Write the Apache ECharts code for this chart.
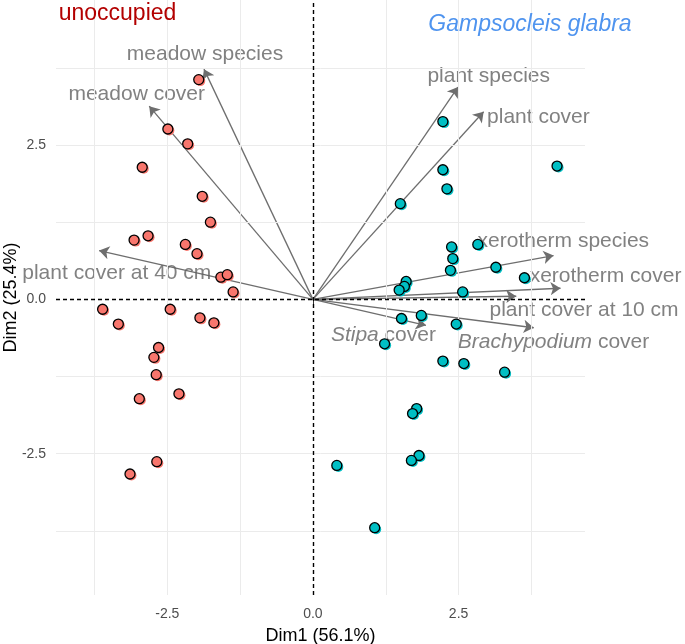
<!DOCTYPE html>
<html>
<head>
<meta charset="utf-8">
<script src="https://cdn.jsdelivr.net/npm/echarts@6/dist/echarts.min.js"></script>
<style>
  html, body { margin: 0; padding: 0; background: #fff; }
  #chart { width: 685px; height: 644px; }
</style>
</head>
<body>
<div id="chart"></div>
<script>
// ---- data ----
const unoccupiedX = [-1.96, -2.49, -2.15, -2.93, -1.90, -1.76, -3.07, -2.83, -2.19, -1.99, -1.58, -1.47, -1.37,
                     -3.61, -3.34, -2.45, -1.94, -1.70, -2.65, -2.73, -2.69, -2.98, -2.30, -2.68, -3.14];
const unoccupiedY = [3.56, 2.76, 2.52, 2.14, 1.67, 1.25, 0.96, 1.03, 0.89, 0.74, 0.36, 0.40, 0.12,
                     -0.16, -0.40, -0.16, -0.30, -0.38, -0.78, -0.94, -1.22, -1.61, -1.53, -2.63, -2.83];
const gampsoX = [2.23, 2.23, 2.30, 1.50, 4.19, 2.38, 2.40, 2.83, 3.14, 2.36, 3.63, 1.60, 1.57, 1.48,
                 2.57, 1.52, 1.86, 2.46, 1.23, 2.23, 2.59, 3.29, 1.78, 1.71, 1.82, 1.69, 1.06, 0.41];
const gampsoY = [2.88, 2.10, 1.79, 1.55, 2.16, 0.85, 0.66, 0.89, 0.52, 0.47, 0.35, 0.29, 0.21, 0.15,
                 0.12, -0.31, -0.26, -0.40, -0.72, -1.00, -1.04, -1.18, -1.77, -1.85, -2.53, -2.61, -3.70, -2.69];
const variableNames = ['meadow species', 'meadow cover', 'plant cover at 40 cm', 'plant species', 'plant cover',
                       'xerotherm species', 'xerotherm cover', 'plant cover at 10 cm', 'Brachypodium cover', 'Stipa cover'];
const variableX = [-1.87, -2.81, -3.67, 2.49, 2.93, 4.13, 4.25, 3.49, 3.79, 1.94];
const variableY = [3.73, 3.13, 0.79, 3.44, 3.04, 0.71, 0.18, 0.05, -0.46, -0.42];
const tickValues = [-2.5, 0, 2.5];
const gridValues = [-3.75, -2.5, -1.25, 1.25, 2.5, 3.75];
const xAxisTitle = 'Dim1 (56.1%)';
const yAxisTitle = 'Dim2 (25.4%)';
const groupNames = ['unoccupied', 'Gampsocleis glabra'];

// ---- style ----
const FONT = "'Liberation Sans', Arial, Helvetica, sans-serif";
const RED = '#F8766D', TEAL = '#00BFC4';
const ARROW = '#6e6e6e', LABEL = '#626262';
const labelOffsets = {
  'meadow species': [1, -15],
  'meadow cover': [-12.5, -11.7],
  'plant cover at 40 cm': [17.7, 23],
  'plant species': [30.7, -10.6],
  'plant cover': [54.8, 5.7],
  'xerotherm species': [9.8, -14.7],
  'xerotherm cover': [45, -12.3],
  'plant cover at 10 cm': [67.8, 13.5],
  'Brachypodium cover': [19.8, 14.9],
  'Stipa cover': [-42.5, 10.3]
};
const italicWords = { 'Brachypodium cover': 'Brachypodium', 'Stipa cover': 'Stipa' };

const pts = (xs, ys) => xs.map((x, i) => [x, ys[i]]);

const chart = echarts.init(document.getElementById('chart'), null, { renderer: 'canvas' });

const option = {
  animation: false,
  backgroundColor: '#fff',
  grid: { left: 56, right: 100, top: 0, bottom: 49, containLabel: false, outerBoundsMode: 'none' },
  xAxis: {
    type: 'value', min: -4.41, max: 4.67,
    name: xAxisTitle, nameLocation: 'middle', nameGap: 32, nameMoveOverlap: false,
    nameTextStyle: { color: '#000', fontSize: 18, fontFamily: FONT },
    axisLine: { show: false },
    splitLine: { show: false },
    axisTick: { show: true, customValues: tickValues, length: 5, lineStyle: { color: '#333', width: 1 } },
    axisLabel: { show: true, customValues: tickValues, margin: 12, color: '#4d4d4d', fontSize: 14, fontFamily: FONT,
                 formatter: v => v.toFixed(1) }
  },
  yAxis: {
    type: 'value', min: -4.79, max: 4.85,
    name: yAxisTitle, nameLocation: 'middle', nameGap: 36, nameMoveOverlap: false,
    nameTextStyle: { color: '#000', fontSize: 18, fontFamily: FONT },
    axisLine: { show: false },
    splitLine: { show: false },
    axisTick: { show: true, customValues: tickValues, length: 5, lineStyle: { color: '#333', width: 1 } },
    axisLabel: { show: true, customValues: tickValues, margin: 10, color: '#4d4d4d', fontSize: 14, fontFamily: FONT,
                 formatter: v => v.toFixed(1) }
  },
  graphic: [
    { type: 'text', x: 117.5, y: 13.5, z: 100,
      style: { text: groupNames[0], fill: '#B30000', font: '23px ' + FONT, textAlign: 'center', textVerticalAlign: 'middle', align: 'center', verticalAlign: 'middle' } },
    { type: 'text', x: 530, y: 25, z: 100,
      style: { text: groupNames[1], fill: '#4F94EF', font: 'italic 23px ' + FONT, textAlign: 'center', textVerticalAlign: 'middle', align: 'center', verticalAlign: 'middle' } }
  ],
  series: [
    {
      type: 'line', data: [], silent: true, z: 1,
      markLine: {
        silent: true, symbol: ['none', 'none'], label: { show: false }, animation: false,
        lineStyle: { color: '#ebebeb', width: 1, type: 'solid' },
        data: gridValues.map(v => ({ xAxis: v })).concat(gridValues.map(v => ({ yAxis: v })))
      }
    },
    {
      type: 'line', data: [], silent: true, z: 2,
      markLine: {
        silent: true, symbol: ['none', 'none'], label: { show: false }, animation: false,
        lineStyle: { color: '#000', width: 1.4, type: [4, 3] },
        data: [{ xAxis: 0 }, { yAxis: 0 }]
      }
    },
    {
      type: 'lines', coordinateSystem: 'cartesian2d', silent: true, z: 3,
      symbol: ['none', 'arrow'], symbolSize: [8, 10],
      lineStyle: { color: ARROW, width: 1.3, opacity: 1, curveness: 0 },
      itemStyle: { color: ARROW },
      data: variableNames.map((n, i) => ({ coords: [[0, 0], [variableX[i], variableY[i]]] }))
    },
    {
      type: 'scatter', silent: true, z: 4, symbol: 'circle', symbolSize: 1,
      itemStyle: { color: 'rgba(0,0,0,0)' },
      data: variableNames.map((n, i) => ({
        name: n, value: [variableX[i], variableY[i]],
        label: {
          show: true,
          formatter: italicWords[n] ? ('{i|' + italicWords[n] + '}' + n.slice(italicWords[n].length)) : n
        }
      })),
      label: {
        show: true, position: 'inside', color: LABEL, fontSize: 21, fontFamily: FONT, align: 'center', verticalAlign: 'middle',
        rich: { i: { fontStyle: 'italic', color: LABEL, fontSize: 21, fontFamily: FONT } }
      },
      labelLayout: function (params) {
        const o = labelOffsets[variableNames[params.dataIndex]];
        return { dx: o[0], dy: o[1], hideOverlap: false };
      }
    },
    {
      type: 'scatter', silent: true, z: 5, symbolSize: 10, symbolOffset: [1.5, 1.5],
      itemStyle: { color: RED, opacity: 1 }, data: pts(unoccupiedX, unoccupiedY)
    },
    {
      type: 'scatter', silent: true, z: 5, symbolSize: 10, symbolOffset: [1.5, 1.5],
      itemStyle: { color: TEAL, opacity: 1 }, data: pts(gampsoX, gampsoY)
    },
    {
      type: 'scatter', silent: true, z: 6, symbolSize: 10,
      itemStyle: { color: RED, borderColor: '#000', borderWidth: 1.3, opacity: 1 }, data: pts(unoccupiedX, unoccupiedY)
    },
    {
      type: 'scatter', silent: true, z: 6, symbolSize: 10,
      itemStyle: { color: TEAL, borderColor: '#000', borderWidth: 1.3, opacity: 1 }, data: pts(gampsoX, gampsoY)
    }
  ]
};
chart.setOption(option);
</script>
</body>
</html>
